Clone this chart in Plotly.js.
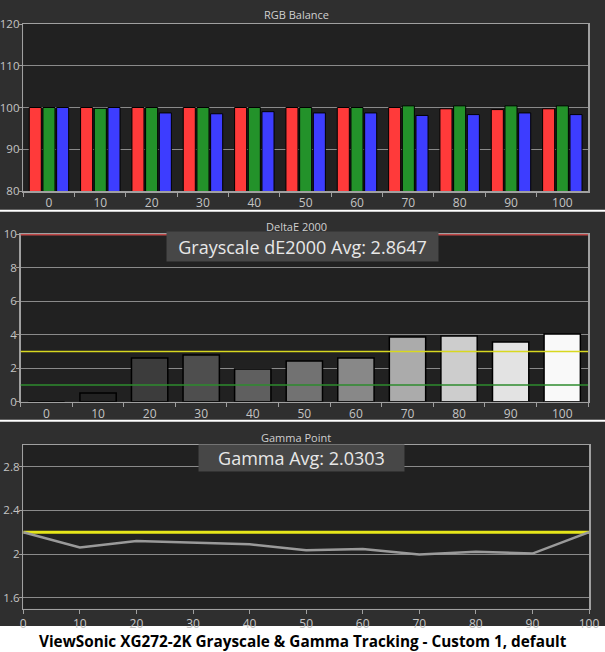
<!DOCTYPE html>
<html>
<head>
<meta charset="utf-8">
<script src="https://cdn.plot.ly/plotly-3.0.1.min.js"></script>
<style>html,body{margin:0;padding:0;background:#fff;}#chart{width:605px;height:652px;}</style>
</head>
<body>
<div id="chart"></div>
<script>
// ---- data ----
const steps = ['0','10','20','30','40','50','60','70','80','90','100'];
const redVals   = [100, 100, 100, 100, 100, 100, 100, 100, 99.7, 99.5, 99.7];
const greenVals = [100, 99.8, 100, 100, 100, 100, 100, 100.4, 100.4, 100.4, 100.4];
const blueVals  = [100, 100, 98.7, 98.5, 99.0, 98.7, 98.7, 98.1, 98.3, 98.7, 98.3];
const deltaE = [0, 0.52, 2.6, 2.78, 1.95, 2.43, 2.6, 3.86, 3.92, 3.56, 4.04];
const deltaLimits = {red: 10, yellow: 3, green: 1};
const gammaX = [0, 10, 20, 30, 40, 50, 60, 70, 80, 90, 100];
const gammaVals = [2.2, 2.06, 2.12, 2.105, 2.09, 2.034, 2.046, 1.995, 2.02, 2.004, 2.2];
const gammaTarget = 2.2;
const deltaAvgText = 'Grayscale dE2000 Avg: 2.8647';
const gammaAvgText = 'Gamma Avg: 2.0303';
const captionText = 'ViewSonic XG272-2K Grayscale & Gamma Tracking - Custom 1, default';

// ---- styles ----
const greyColors = ['#1a1a1a','#222222','#3c3c3c','#4e4e4e','#5f5f5f','#727272','#888888','#ababab','#cdcdcd','#e3e3e3','#f9f9f9'];
const W = 605, H = 652;
const py = v => 1 - v / H;
const px = v => v / W;
const FONT = 'Open Sans, Noto Sans, sans-serif';
const tickFont = {family: FONT, size: 12, color: '#c4c4c4'};
const yTickFont = {family: FONT, size: 11.5, color: '#c4c4c4'};
const gridC = '#8a8a8a';
const frameC = '#a0a0a0';

const traces = [
  {type:'bar', x: steps, y: redVals, name:'R', xaxis:'x', yaxis:'y',
   marker:{color:'#ff3a3a', line:{color:'#000', width:1}}},
  {type:'bar', x: steps, y: greenVals, name:'G', xaxis:'x', yaxis:'y',
   marker:{color:'#23922a', line:{color:'#000', width:1}}},
  {type:'bar', x: steps, y: blueVals, name:'B', xaxis:'x', yaxis:'y',
   marker:{color:'#3d3dff', line:{color:'#000', width:1}}},
  {type:'bar', x: steps, y: deltaE, name:'dE', xaxis:'x2', yaxis:'y2',
   marker:{color: greyColors, line:{color:'#000', width:1.5}}},
  {type:'scatter', mode:'lines', x: gammaX, y: gammaX.map(() => gammaTarget), xaxis:'x3', yaxis:'y3',
   line:{color:'#e6e61a', width:3}},
  {type:'scatter', mode:'lines', x: gammaX, y: gammaVals, xaxis:'x3', yaxis:'y3',
   line:{color:'#9a9a9a', width:2.5}}
];

const catAxis = (dom) => ({
  domain: dom, type:'category', showgrid:false, zeroline:false,
  showline:true, linecolor: frameC, linewidth:1.5, mirror:true,
  ticks:'outside', tickson:'boundaries', ticklen:4, tickcolor: frameC,
  tickfont: tickFont, fixedrange:true
});
const valAxis = (dom, range, tv, tt) => ({
  domain: dom, range: range, tickvals: tv, ticktext: tt,
  showgrid:true, gridcolor: gridC, gridwidth:1, zeroline:false,
  showline:true, linecolor: frameC, linewidth:1.5, mirror:true,
  ticks:'outside', ticklen:3, tickcolor: frameC, tickfont: yTickFont,
  ticklabelstandoff:-3, fixedrange:true
});

const layout = {
  width: W, height: H,
  margin:{l:0, r:0, t:0, b:0},
  paper_bgcolor:'#2f2f2f',
  plot_bgcolor:'#212121',
  showlegend:false,
  barmode:'group', bargap:0.2, bargroupgap:0.12,
  xaxis: catAxis([px(23.3), px(588)]),
  yaxis: Object.assign(valAxis([py(191), py(24)], [80,120], [80,90,100,110,120], ['80','90','100','110','120']), {anchor:'x'}),
  xaxis2: Object.assign(catAxis([px(20.7), px(588)]), {anchor:'y2'}),
  yaxis2: Object.assign(valAxis([py(401.7), py(234)], [0,10], [0,2,4,6,8,10], ['0','2','4','6','8','10']), {anchor:'x2'}),
  xaxis3: {domain:[px(23.3), px(589)], anchor:'y3', range:[0,100], tickvals: gammaX, ticktext: gammaX.map(String),
    showgrid:false, zeroline:false, showline:true, linecolor: frameC, linewidth:1.5, mirror:true,
    ticks:'outside', ticklen:4, tickcolor: frameC, tickfont: tickFont, fixedrange:true},
  yaxis3: Object.assign(valAxis([py(608.5), py(445)], [1.5,3.0], [1.6,2,2.4,2.8], ['1.6','2','2.4','2.8']), {anchor:'x3'}),
  shapes: [
    {type:'rect', xref:'paper', yref:'paper', x0:0, x1:1, y0:0, y1:py(626), fillcolor:'#ffffff', line:{width:0}, layer:'below'},
    {type:'line', xref:'paper', yref:'paper', x0:0, x1:1, y0:py(210.7), y1:py(210.7), line:{color:'#ffffff', width:2}},
    {type:'line', xref:'paper', yref:'paper', x0:0, x1:1, y0:py(420.7), y1:py(420.7), line:{color:'#ffffff', width:2}},
    {type:'line', xref:'x2 domain', yref:'y2', x0:0, x1:1, y0:deltaLimits.red, y1:deltaLimits.red, line:{color:'#c04848', width:3}, layer:'above'},
    {type:'line', xref:'x2 domain', yref:'y2', x0:0, x1:1, y0:deltaLimits.yellow, y1:deltaLimits.yellow, line:{color:'#d8d820', width:1.5}, layer:'above'},
    {type:'line', xref:'x2 domain', yref:'y2', x0:0, x1:1, y0:deltaLimits.green, y1:deltaLimits.green, line:{color:'#2e8b2e', width:1.5}, layer:'above'}
  ],
  annotations: [
    {text:'RGB Balance', xref:'paper', yref:'paper', x:px(296), y:py(15), xanchor:'center', yanchor:'middle', showarrow:false,
     font:{family:FONT, size:11, color:'#d0d0d0'}},
    {text:'DeltaE 2000', xref:'paper', yref:'paper', x:px(296), y:py(226.7), xanchor:'center', yanchor:'middle', showarrow:false,
     font:{family:FONT, size:11, color:'#d0d0d0'}},
    {text:'Gamma Point', xref:'paper', yref:'paper', x:px(296), y:py(437), xanchor:'center', yanchor:'middle', showarrow:false,
     font:{family:FONT, size:11, color:'#d0d0d0'}},
    {text: deltaAvgText, xref:'paper', yref:'paper', x:px(302), y:py(246.5), xanchor:'center', yanchor:'middle', showarrow:false,
     width:271, height:29, borderpad:0, bgcolor:'#474747', font:{family:FONT, size:18, color:'#e8e8e8'}},
    {text: gammaAvgText, xref:'paper', yref:'paper', x:px(301.5), y:py(458), xanchor:'center', yanchor:'middle', showarrow:false,
     width:205, height:26, borderpad:0, bgcolor:'#474747', font:{family:FONT, size:18, color:'#e8e8e8'}},
    {text:'<b>' + captionText.replace(/&/g,'&amp;') + '</b>', xref:'paper', yref:'paper', x:0.5, y:py(641), xanchor:'center', yanchor:'middle', showarrow:false,
     font:{family:FONT, size:15.3, color:'#000000'}}
  ]
};

Plotly.newPlot('chart', traces, layout, {displayModeBar:false, staticPlot:true});
</script>
</body>
</html>
